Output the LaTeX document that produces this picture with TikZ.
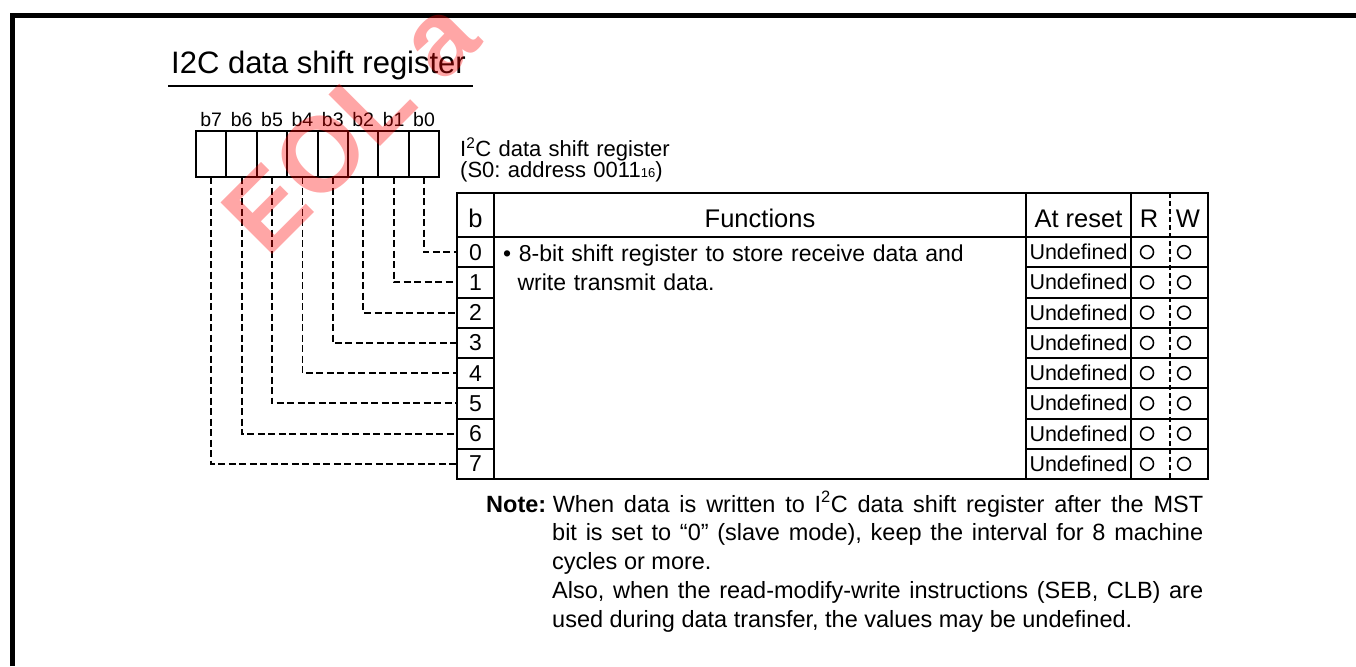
\documentclass[tikz,border=0pt]{standalone}
\usepackage{fontspec}
\setmainfont{Liberation Sans}
\frenchspacing
\begin{document}
\begin{tikzpicture}[x=1pt,y=-1pt,
  tline/.style={line width=2pt},
  lead/.style={line width=1.8pt,dash pattern=on 7pt off 3.5pt},
  rwsep/.style={line width=1.3pt,dash pattern=on 5pt off 3pt},
  bitcell/.style={draw,line width=2pt,minimum width=30.4pt,minimum height=46pt,inner sep=0pt,outer sep=0pt},
  blabel/.style={inner sep=0pt,font=\fontsize{19.5}{19.5}\selectfont},
  rowcell/.style={minimum width=37pt,minimum height=30.25pt,inner sep=0pt,outer sep=0pt,font=\fontsize{23}{23}\selectfont},
  undef/.style={inner sep=0pt,font=\fontsize{21.5}{21.5}\selectfont},
  hdr/.style={inner sep=0pt,font=\fontsize{25.5}{25.5}\selectfont},
  rwmark/.style={draw,circle,minimum size=13pt,line width=1.5pt,inner sep=0pt},
]
\useasboundingbox (0,0) rectangle (1356,666);
% page frame
\draw[line width=5pt] (12.5,666) -- (12.5,15.8) -- (1356,15.8);
% title
\node[anchor=base west,inner sep=0pt,font=\fontsize{31}{31}\selectfont] (title) at (171,74) {I2C data shift register};
\draw[line width=1.5pt] (168,86) -- (473,86);
% register cells
\foreach \i in {0,...,7}{
  \node[bitcell] (c\i) at ({196+(7.5-\i)*30.4},154) {};
  \node[blabel,anchor=base] (l\i) at ({196+(7.5-\i)*30.4},127) {b\i};
}
% register label
\node[anchor=base west,text width=240pt,align=left,inner sep=0pt,font=\fontsize{22}{21}\selectfont] (reglabel) at (460,156.5)
  {I\textsuperscript{2}C data shift register\\(S0: address 0011{\fontsize{13}{13}\selectfont 16})};
% table frame
\draw[tline] (457,193) rectangle (1208,479);
\draw[tline] (457,237) -- (1208,237);
\draw[tline] (494,193) -- (494,479);
\draw[tline] (1026,193) -- (1026,479);
\draw[tline] (1131,193) -- (1131,479);
\draw[rwsep] (1170,193) -- (1170,479);
\foreach \k in {1,...,7}{
  \draw[tline] (457,{237+30.25*\k}) -- (494,{237+30.25*\k});
  \draw[tline] (1026,{237+30.25*\k}) -- (1208,{237+30.25*\k});
}
% headers
\node[hdr,anchor=base] (hb) at (475.5,227) {b};
\node[hdr,anchor=base] (hf) at (760,227) {Functions};
\node[hdr,anchor=base] (ha) at (1078.5,227) {At reset};
\node[hdr,anchor=base] (hr) at (1149,227) {R};
\node[hdr,anchor=base] (hw) at (1188,227) {W};
% rows
\foreach \i in {0,...,7}{
  \pgfmathsetmacro\yc{252.125+30.25*\i}
  \node[rowcell] (r\i) at (475.5,\yc) {\i};
  \node[undef,anchor=base] (u\i) at (1078.5,\yc+7.5) {Undefined};
  \node[rwmark] (R\i) at (1147,\yc) {};
  \node[rwmark] (W\i) at (1184,\yc) {};
  \draw[lead] (c\i.south) |- (r\i.west);
}
% function text
\node[anchor=base west,text width=515pt,align=left,inner sep=0pt,font=\fontsize{23}{29}\selectfont] (func) at (503,261)
  {\hangindent=14.4pt\hangafter=1 \textbullet~8-bit shift register to store receive data and\linebreak write transmit data.\par};
% note
\node[anchor=base west,text width=717pt,align=justify,inner sep=0pt,font=\fontsize{23.5}{28.8}\selectfont] (note) at (486,512)
  {\hangindent=66pt\hangafter=1\textbf{Note:}\hspace{6.5pt}When data is written to I\textsuperscript{2}C data shift register after the MST\linebreak bit is set to “0” (slave mode), keep the interval for 8 machine\linebreak cycles or more.\par
   \leftskip=66pt Also, when the read-modify-write instructions (SEB, CLB) are\linebreak used during data transfer, the values may be undefined.\par};
% watermark
\begin{scope}
\clip (0,0) rectangle (1356,666);
\node[anchor=base west,rotate=45,text=red,opacity=0.35,inner sep=0pt,font=\fontsize{106}{106}\selectfont\bfseries] (wm) at (267,260) {EOL a};
\end{scope}
\end{tikzpicture}
\end{document}
